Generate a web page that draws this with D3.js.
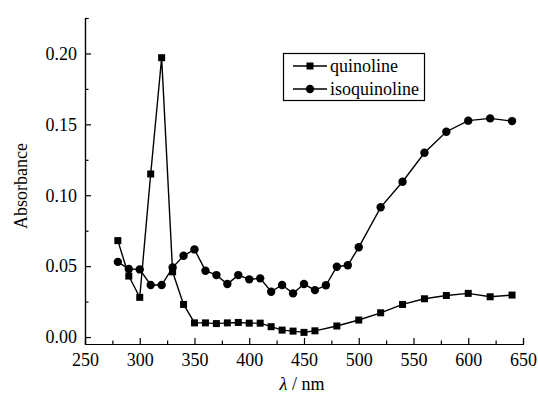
<!DOCTYPE html>
<html>
<head>
<meta charset="utf-8">
<script src="https://cdn.jsdelivr.net/npm/d3@7"></script>
<style>
  body { margin: 0; background: #fff; }
  svg text { font-family: "Liberation Serif", "Times New Roman", serif !important; }
</style>
</head>
<body>
<div id="graph"></div>
<script>
// wavelength (nm) and absorbance
var quinolineX = [280, 290, 300, 310, 320, 330, 340, 350, 360, 370, 380, 390, 400, 410, 420, 430, 440, 450, 460, 480, 500, 520, 540, 560, 580, 600, 620, 640];
var quinolineY = [0.068, 0.043, 0.028, 0.115, 0.197, 0.046, 0.023, 0.010, 0.010, 0.0095, 0.010, 0.0103, 0.0098, 0.0098, 0.0073, 0.0049, 0.0042, 0.0033, 0.0044, 0.0078, 0.012, 0.0171, 0.023, 0.027, 0.0293, 0.0308, 0.0284, 0.0296];

var isoX = [280, 290, 300, 310, 320, 330, 340, 350, 360, 370, 380, 390, 400, 410, 420, 430, 440, 450, 460, 470, 480, 490, 500, 520, 540, 560, 580, 600, 620, 640];
var isoY = [0.053, 0.048, 0.0477, 0.0367, 0.0367, 0.049, 0.0573, 0.0618, 0.0468, 0.0437, 0.0374, 0.0437, 0.0407, 0.0414, 0.032, 0.0367, 0.0308, 0.0374, 0.0331, 0.0365, 0.0496, 0.0506, 0.0633, 0.0915, 0.1095, 0.130, 0.1448, 0.1526, 0.1542, 0.1523];

var xTicks = [250, 300, 350, 400, 450, 500, 550, 600, 650];
var yTicks = [0.00, 0.05, 0.10, 0.15, 0.20];
var seriesNames = ["quinoline", "isoquinoline"];

var W = 538, H = 398;
var mLeft = 85, mRight = 523, mTop = 18, mBottom = 344;

var svg = d3.select("#graph")
            .append("svg")
            .attr("width", W)
            .attr("height", H);

var x = d3.scaleLinear().domain([250, 650]).range([mLeft, mRight]);
var y = d3.scaleLinear().domain([-0.0049, 0.225]).range([mBottom, mTop]);

// minor ticks first (no labels)
svg.append("g")
   .attr("transform", "translate(0," + mBottom + ")")
   .call(d3.axisBottom(x).tickValues(d3.range(275, 650, 50)).tickSize(-3.5).tickFormat(""));
svg.append("g")
   .attr("transform", "translate(" + mLeft + ",0)")
   .call(d3.axisLeft(y).tickValues(d3.range(0.025, 0.23, 0.05)).tickSize(-3.5).tickFormat(""));

// major axes
var xAxis = svg.append("g")
   .attr("transform", "translate(0," + mBottom + ")")
   .call(d3.axisBottom(x).tickValues(xTicks).tickSize(-6).tickSizeOuter(0).tickPadding(9));
var yAxis = svg.append("g")
   .attr("transform", "translate(" + mLeft + ",0)")
   .call(d3.axisLeft(y).tickValues(yTicks).tickSize(-6).tickSizeOuter(0).tickPadding(8)
         .tickFormat(d3.format(".2f")));

svg.selectAll("g").attr("font-family", "Liberation Serif");
svg.selectAll(".domain, .tick line").attr("stroke", "#000").attr("stroke-width", 1.2);
svg.selectAll(".tick text").attr("font-size", 18).attr("fill", "#000");

// axis titles
svg.append("text")
   .attr("transform", "translate(27,186) rotate(-90)")
   .attr("text-anchor", "middle")
   .attr("font-size", 18)
   .text("Absorbance");

var xt = svg.append("text")
   .attr("x", 302)
   .attr("y", 390)
   .attr("text-anchor", "middle")
   .attr("font-size", 18);
xt.append("tspan").attr("font-style", "italic").text("λ");
xt.append("tspan").text(" / nm");

// lines
var line = d3.line()
   .x(function(d) { return x(d[0]); })
   .y(function(d) { return y(d[1]); });

var quin = d3.zip(quinolineX, quinolineY);
var iso = d3.zip(isoX, isoY);

svg.append("path").datum(quin).attr("d", line)
   .attr("fill", "none").attr("stroke", "#000").attr("stroke-width", 1.4);
svg.append("path").datum(iso).attr("d", line)
   .attr("fill", "none").attr("stroke", "#000").attr("stroke-width", 1.4);

svg.selectAll(".sq").data(quin).enter()
   .append("rect")
   .attr("class", "sq")
   .attr("x", function(d) { return x(d[0]) - 3.5; })
   .attr("y", function(d) { return y(d[1]) - 3.5; })
   .attr("width", 7).attr("height", 7)
   .attr("fill", "#000");

svg.selectAll(".ci").data(iso).enter()
   .append("circle")
   .attr("class", "ci")
   .attr("cx", function(d) { return x(d[0]); })
   .attr("cy", function(d) { return y(d[1]); })
   .attr("r", 4.2)
   .attr("fill", "#000");

// legend
var lg = svg.append("g");
lg.append("rect")
  .attr("x", 283.5).attr("y", 53.5)
  .attr("width", 141).attr("height", 47)
  .attr("fill", "#fff").attr("stroke", "#000").attr("stroke-width", 1.2);

seriesNames.forEach(function(name, i) {
    var cy = 66 + i * 23;
    lg.append("line").attr("x1", 293).attr("x2", 327).attr("y1", cy).attr("y2", cy)
      .attr("stroke", "#000").attr("stroke-width", 1.4);
    if (i === 0) {
        lg.append("rect").attr("x", 306.5).attr("y", cy - 3.5).attr("width", 7).attr("height", 7).attr("fill", "#000");
    } else {
        lg.append("circle").attr("cx", 310).attr("cy", cy).attr("r", 4.2).attr("fill", "#000");
    }
    lg.append("text").attr("x", 330).attr("y", cy + 5.5).attr("font-size", 18).text(name);
});
</script>
</body>
</html>
